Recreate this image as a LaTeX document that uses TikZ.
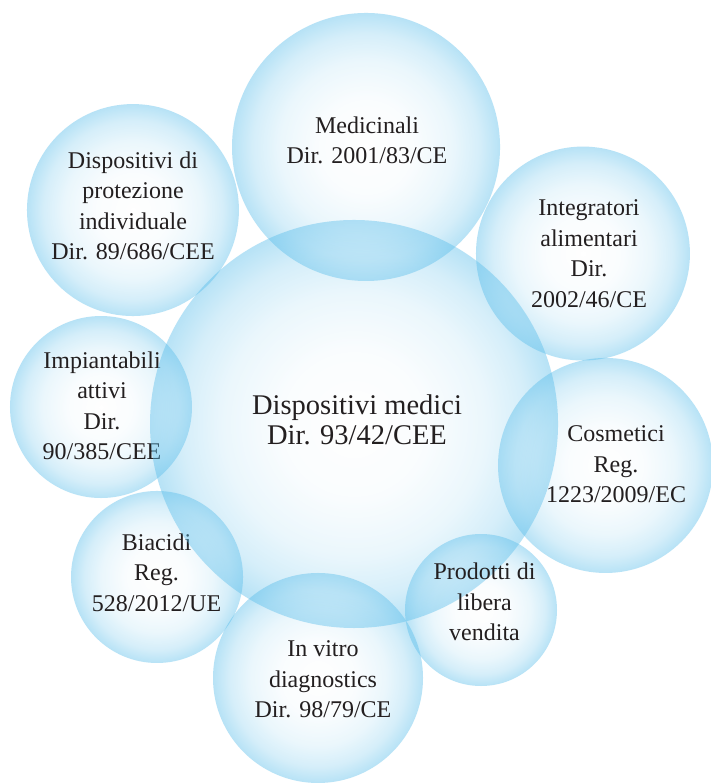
\documentclass[tikz,border=0pt]{standalone}
\usepackage{fontspec}
\setmainfont{Liberation Serif}
\usetikzlibrary{fadings}

% soft bubble: clear in the middle, tinted towards the rim
\definecolor{bubbleblue}{RGB}{90,190,235}
\definecolor{labelink}{RGB}{35,31,32}
\pgfdeclareradialshading{bubblemask}{\pgfpointorigin}{%
  color(0bp)=(black);
  color(9bp)=(white!3!black);
  color(16bp)=(white!12!black);
  color(21bp)=(white!25!black);
  color(25bp)=(white!44!black);
  color(50bp)=(white!44!black)}
\pgfdeclarefading{bubblefade}{\pgfuseshading{bubblemask}}

\tikzset{
  bubble/.style={fill=bubbleblue, path fading=bubblefade},
  smalllabel/.style={align=center, text=labelink, inner sep=0pt,
    font=\fontsize{24}{30.5}\selectfont},
  biglabel/.style={align=center, text=labelink, inner sep=0pt,
    font=\fontsize{28.5}{30}\selectfont}
}

\begin{document}
\begin{tikzpicture}[x=1pt, y=-1pt]
\useasboundingbox (0,0) rectangle (710,784);
\fill[white] (0,0) rectangle (710,784);

% circle centres
\coordinate (cMed) at (366,147);
\coordinate (cDpi) at (133,210);
\coordinate (cInt) at (583,253.5);
\coordinate (cCos) at (605.5,465.5);
\coordinate (cImp) at (101,407);
\coordinate (cBia) at (157,577);
\coordinate (cIvd) at (318,678);
\coordinate (cPro) at (481,610);
\coordinate (cDm)  at (354,424);

% outer bubbles
\path[bubble] (cMed) circle (134);
\node[smalllabel] (tMed) at (367,140.5) {Medicinali\\Dir. 2001/83/CE};

\path[bubble] (cDpi) circle (106);
\node[smalllabel] (tDpi) at (133,206) {Dispositivi di\\protezione\\individuale\\Dir. 89/686/CEE};

\path[bubble] (cInt) circle (107);
\node[smalllabel] (tInt) at (589,253.5) {Integratori\\alimentari\\Dir.\\2002/46/CE};

\path[bubble] (cImp) circle (91);
\node[smalllabel] (tImp) at (102,406) {Impiantabili\\attivi\\Dir.\\90/385/CEE};

\path[bubble] (cBia) circle (86);
\node[smalllabel] (tBia) at (156.5,572.5) {Biacidi\\Reg.\\528/2012/UE};

\path[bubble] (cIvd) circle (105);
\node[smalllabel] (tIvd) at (323,679.5) {In vitro\\diagnostics\\Dir. 98/79/CE};

% central bubble
\path[bubble] (cDm) circle (204);
\node[biglabel] (tDm) at (357,420) {Dispositivi medici\\Dir. 93/42/CEE};

% bubbles lying over the central one
\path[bubble] (cCos) circle (107.5);
\node[smalllabel] (tCos) at (616,464.5) {Cosmetici\\Reg.\\1223/2009/EC};

\path[bubble] (cPro) circle (76);
\node[smalllabel] (tPro) at (484.5,602) {Prodotti di\\libera\\vendita};
\end{tikzpicture}
\end{document}
